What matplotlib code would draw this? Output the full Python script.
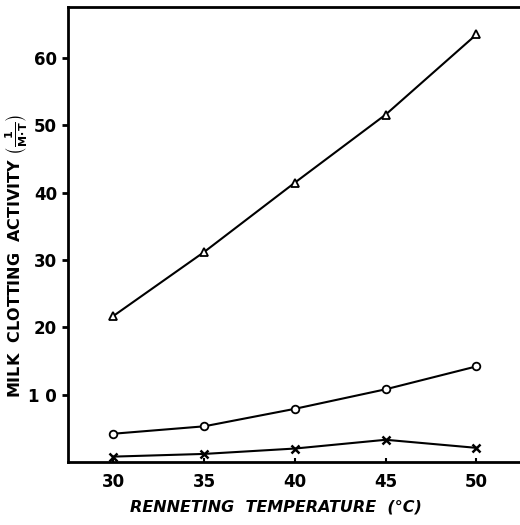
import matplotlib
matplotlib.use("Agg")
import matplotlib.pyplot as plt

# renneting temperature (°C)
temperatura = [30, 35, 40, 45, 50]
# milk clotting activity, three preparations
act_triangulo = [21.7, 31.2, 41.5, 51.6, 63.5]
act_circulo = [4.2, 5.3, 7.9, 10.8, 14.2]
act_cruz = [0.8, 1.2, 2.0, 3.3, 2.1]

xticks = [30, 35, 40, 45, 50]
yticks = [10, 20, 30, 40, 50, 60]

fig = plt.figure(figsize=(5.2, 5.25), dpi=100)
ax = fig.add_axes([0.131, 0.12, 0.869, 0.867])

ax.plot(temperatura, act_triangulo, color="black", lw=1.5, marker="^",
        ms=6, mfc="white", mec="black", mew=1.3)
ax.plot(temperatura, act_circulo, color="black", lw=1.5, marker="o",
        ms=5.5, mfc="white", mec="black", mew=1.3)
ax.plot(temperatura, act_cruz, color="black", lw=1.5, marker="x",
        ms=6, mec="black", mew=1.8)

ax.set_xlim(27.5, 52.4)
ax.set_ylim(0, 67.6)
ax.set_xticks(xticks)
ax.set_yticks(yticks)
ax.set_xticklabels([str(t) for t in xticks], fontsize=12, fontweight="bold")
ax.set_yticklabels(["1 0" if t == 10 else str(t) for t in yticks],
                   fontsize=12, fontweight="bold")
ax.tick_params(axis="y", direction="out", length=4, width=2, pad=4)
ax.tick_params(axis="x", direction="in", length=3, width=1.5, pad=8)

ax.spines["right"].set_visible(False)
for s in ["left", "bottom", "top"]:
    ax.spines[s].set_linewidth(2)

ax.set_xlabel("RENNETING  TEMPERATURE  (°C)", fontsize=11.5,
              fontweight="bold", style="italic", labelpad=6)
ax.xaxis.set_label_coords(0.46, -0.082)
# etiqueta del eje y como texto de la figura para controlar su posición
fig.text(0.03, 0.512,
         r"MILK  CLOTTING  ACTIVITY $\left(\frac{\mathbf{1}}{\mathbf{M{\cdot}T}}\right)$",
         rotation=90, ha="center", va="center", fontsize=11.5, fontweight="bold")

fig.savefig("out.png", dpi=100)
